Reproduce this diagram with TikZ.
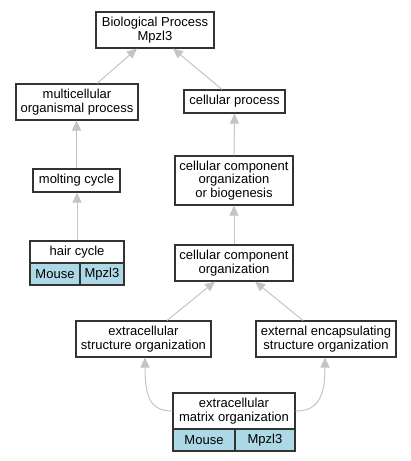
\documentclass[tikz,border=0pt]{standalone}
\usepackage{fontspec}
\setmainfont{Liberation Sans}
\usetikzlibrary{arrows.meta,calc}
\definecolor{edgegray}{HTML}{C4C4C4}
\definecolor{cellblue}{HTML}{ADD8E6}
\definecolor{boxline}{HTML}{333333}
\begin{document}
\begin{tikzpicture}[x=1pt,y=-1pt,
  box/.style={draw=boxline,line width=1.1pt,fill=white,inner sep=0pt,align=center,
    font=\fontsize{13}{13.6}\selectfont},
  cell/.style={box,fill=cellblue},
  edge/.style={draw=edgegray,line width=1pt,-{Triangle[length=10pt,width=9pt]}}]
\useasboundingbox (0,0) rectangle (411,461);
\node[box,minimum width=118,minimum height=36] (bio) at (155,30) {Biological Process\\Mpzl3};
\node[box,minimum width=122,minimum height=36] (multi) at (77,102) {multicellular\\organismal process};
\node[box,minimum width=101,minimum height=23] (cellproc) at (234.5,101.5) {cellular process};
\node[box,minimum width=87,minimum height=23] (molt) at (76.5,180.5) {molting cycle};
\node[box,minimum width=118,minimum height=49] (ccob) at (234,180.5) {cellular component\\organization\\or biogenesis};
\node[box,minimum width=94,minimum height=22] (hair) at (77,252) {hair cycle};
\node[cell,minimum width=50,minimum height=22] (hairm) at (55,274) {Mouse};
\node[cell,minimum width=44,minimum height=22] (hairg) at (102,274) {Mpzl3};
\node[box,minimum width=118,minimum height=36] (cco) at (234,263) {cellular component\\organization};
\node[box,minimum width=135,minimum height=36] (eso) at (143.5,339) {extracellular\\structure organization};
\node[box,minimum width=140,minimum height=36] (eeso) at (326,339) {external encapsulating\\structure organization};
\node[box,minimum width=122,minimum height=36] (ecm) at (234,411) {extracellular\\matrix organization};
\node[cell,minimum width=62,minimum height=22] (ecmm) at (204,440) {Mouse};
\node[cell,minimum width=60,minimum height=22] (ecmg) at (265,440) {Mpzl3};
\draw[edge] ($(multi.north)+(20,0)$) -- ($(bio.south)+(-18,0)$);
\draw[edge] ($(cellproc.north)+(-12.5,0)$) -- ($(bio.south)+(18,0)$);
\draw[edge] (molt.north) -- (molt.north |- multi.south);
\draw[edge] (ccob.north) -- (cellproc.south);
\draw[edge] (hair.north) -- (hair.north |- molt.south);
\draw[edge] (cco.north) -- (ccob.south);
\draw[edge] ($(eso.north)+(23.5,0)$) -- ($(cco.south)+(-19,0)$);
\draw[edge] ($(eeso.north)+(-23,0)$) -- ($(cco.south)+(21,0)$);
\draw[edge] (ecm.west) .. controls +(-22,0) and +(0,40) .. ($(eso.south)+(1.5,0)$);
\draw[edge] (ecm.east) .. controls +(22,0) and +(0,40) .. ($(eeso.south)+(-1,0)$);
\end{tikzpicture}
\end{document}
